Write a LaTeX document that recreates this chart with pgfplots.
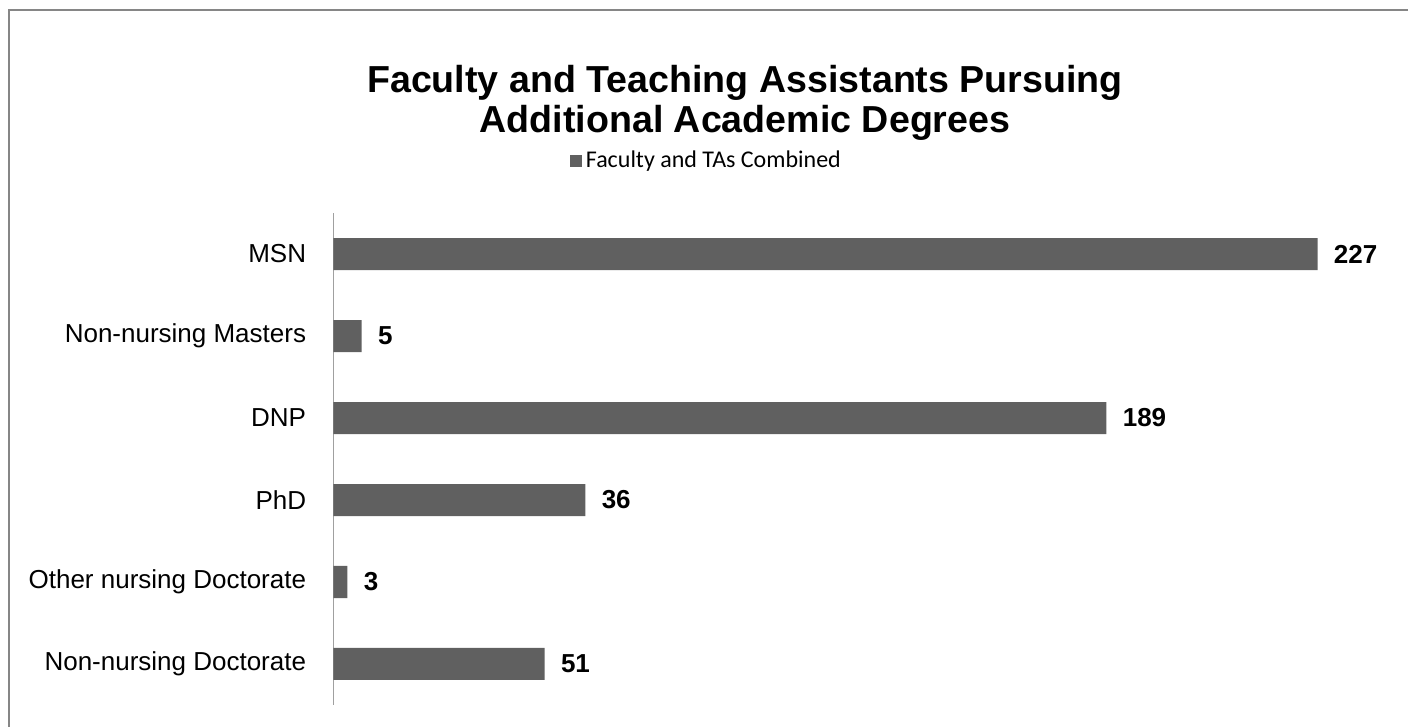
\documentclass[border=0pt]{standalone}
\usepackage{pgfplots}
\pgfplotsset{compat=1.18}
\usepackage{fontspec}
\setmainfont{Liberation Sans}
\newfontfamily\legendfont{Carlito}
\definecolor{barcol}{HTML}{606060}
\definecolor{axcol}{HTML}{A0A0A0}
\definecolor{framecol}{HTML}{868686}

\begin{document}
\begin{tikzpicture}
% page is 1408 x 727 px at 0.5pt per px
\useasboundingbox (0pt,0pt) rectangle (704pt,-363.5pt);
\draw[framecol, line width=1pt] (4.25pt,-363.5pt) -- (4.25pt,-5.25pt) -- (704pt,-5.25pt);
\node[font=\bfseries\fontsize{18.8}{20}\selectfont, align=center] at (372.5pt,-51.5pt)
  {Faculty and Teaching Assistants Pursuing\\Additional Academic Degrees};

\begin{axis}[
    at={(166.75pt,-106.5pt)}, anchor=north west,
    scale only axis, width=498.5pt, height=246pt,
    xbar, bar width=16pt, bar shift=0pt,
    xmin=0, xmax=230, ymin=-0.5, ymax=5.5, y dir=reverse,
    axis x line=none, axis y line*=left,
    axis line style={axcol, line width=0.9pt},
    ytick={0,...,5},
    yticklabels={MSN, Non-nursing Masters, DNP, PhD, Other nursing Doctorate, Non-nursing Doctorate},
    major tick length=0pt,
    yticklabel style={font=\fontsize{13}{15}\selectfont, inner sep=0pt, xshift=-13.5pt},
    nodes near coords, point meta=explicit symbolic,
    every node near coord/.append style={font=\bfseries\fontsize{13}{15}\selectfont,
        inner sep=0pt, anchor=west, xshift=8pt, black},
    legend style={at={(0.375,1.106)}, anchor=center, draw=none, fill=none,
        font=\legendfont\fontsize{12}{14}\selectfont},
  ]
  % bar lengths as drawn (labels as printed)
  \addplot[fill=barcol, draw=none,
      legend image code/.code={\fill[barcol] (0pt,-3pt) rectangle (6pt,3pt);}]
    coordinates {(227,0) [227] (6.5,1) [5] (178.3,2) [189] (58.1,3) [36] (3.2,4) [3] (48.7,5) [51]};
  \addlegendentry{Faculty and TAs Combined}
\end{axis}
\end{tikzpicture}
\end{document}
